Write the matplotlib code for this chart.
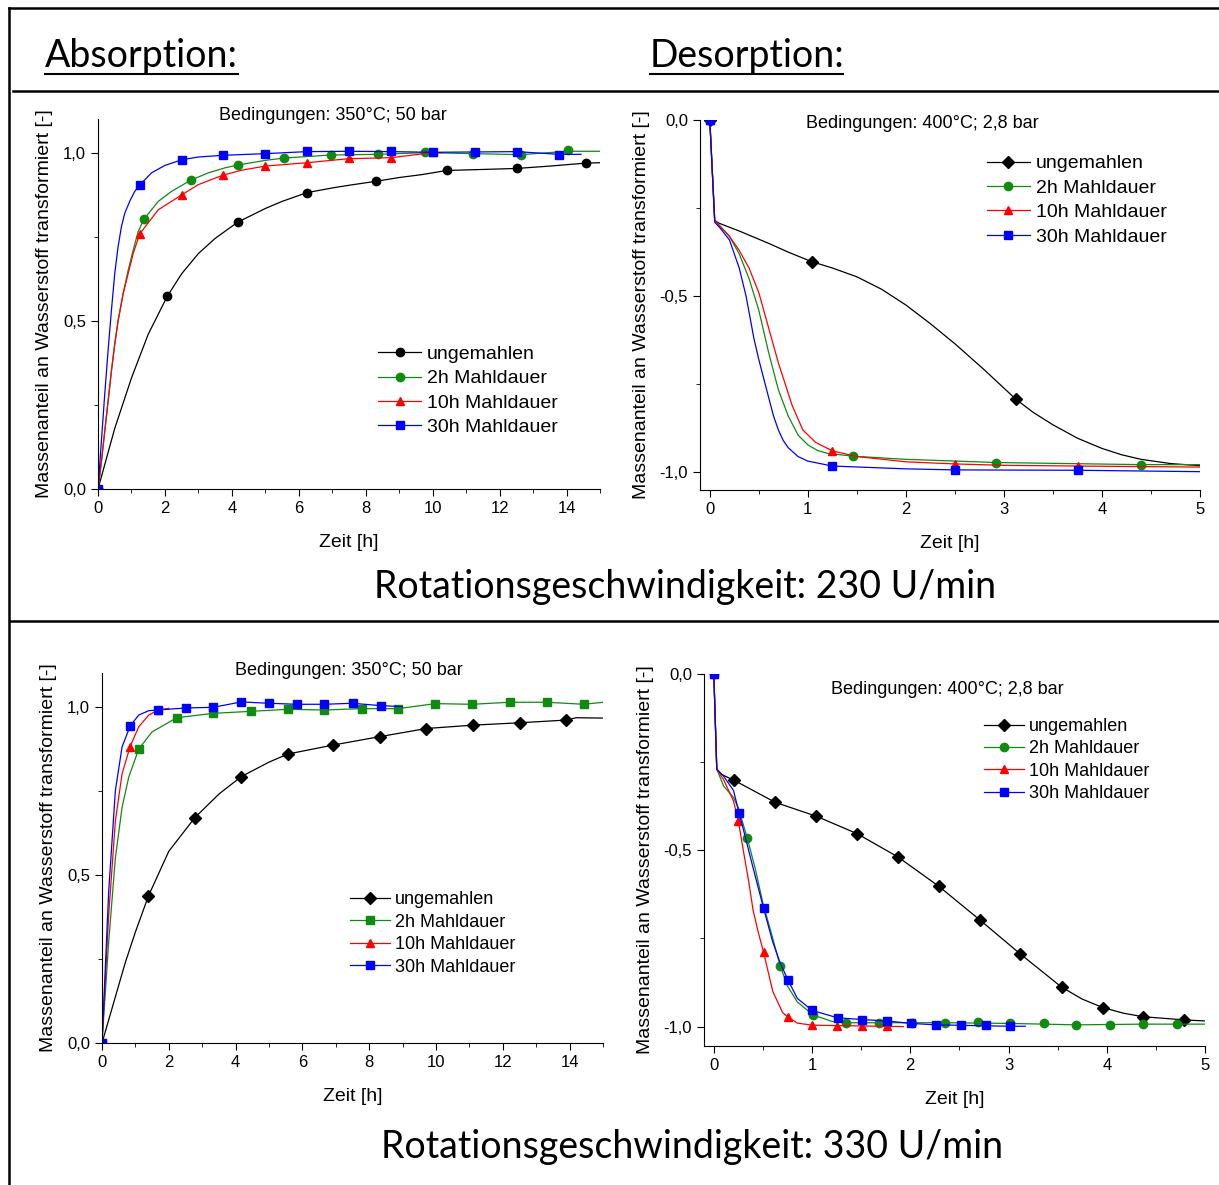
# Sorptionskinetik: Absorption / Desorption bei 230 und 330 U/min
import numpy as np
import matplotlib
matplotlib.use("Agg")
import matplotlib.pyplot as plt
from matplotlib.lines import Line2D
from matplotlib.ticker import MultipleLocator, FuncFormatter

plt.rcParams["font.family"] = ["Liberation Sans", "DejaVu Sans"]

# -- Daten -- (Zeit [h], Massenanteil [-])
labels = ["ungemahlen", "2h Mahldauer", "10h Mahldauer", "30h Mahldauer"]

# Absorption, 230 U/min
a230_ung = [(0, 0), (0.5, 0.18), (1.0, 0.33), (1.5, 0.46), (2.07, 0.573), (2.5, 0.64), (3.0, 0.70),
            (3.5, 0.745), (4.17, 0.793), (5.0, 0.834), (5.5, 0.855), (6.24, 0.881), (7.0, 0.895),
            (7.5, 0.903), (8.32, 0.915), (9.0, 0.926), (9.7, 0.935), (10.42, 0.947), (11.5, 0.95),
            (12.51, 0.953), (13.5, 0.96), (14.59, 0.969), (15.0, 0.97)]
a230_ung_mk = [(0, 0), (2.07, 0.573), (4.17, 0.793), (6.24, 0.881), (8.32, 0.915), (10.42, 0.947),
               (12.51, 0.953), (14.59, 0.969)]
a230_2h = [(0, 0), (0.1, 0.08), (0.2, 0.17), (0.3, 0.26), (0.4, 0.35), (0.5, 0.43), (0.6, 0.5),
           (0.75, 0.58), (0.9, 0.65), (1.05, 0.71), (1.2, 0.765), (1.37, 0.802), (1.8, 0.855), (2.2, 0.885),
           (2.77, 0.918), (3.3, 0.94), (3.8, 0.955), (4.17, 0.963), (5.0, 0.977), (5.57, 0.984),
           (6.97, 0.993), (8.37, 0.995), (9.78, 1.0), (11.2, 0.997), (12.63, 0.994), (14.04, 1.004),
           (15.0, 1.004)]
a230_2h_mk = [(0, 0), (1.37, 0.802), (2.77, 0.918), (4.17, 0.963), (5.57, 0.984), (6.97, 0.993),
              (8.37, 0.995), (9.78, 1.003), (11.2, 0.997), (12.63, 0.992), (14.04, 1.007)]
a230_10h = [(0, 0), (0.1, 0.08), (0.2, 0.17), (0.3, 0.26), (0.4, 0.35), (0.5, 0.43), (0.6, 0.5),
            (0.75, 0.58), (0.9, 0.64), (1.05, 0.7), (1.25, 0.759), (1.8, 0.83), (2.51, 0.875),
            (3.0, 0.905), (3.73, 0.933), (4.3, 0.948), (5.0, 0.96), (6.24, 0.97), (7.49, 0.982),
            (8.75, 0.985), (10.0, 1.0), (10.3, 1.0)]
a230_10h_mk = [(0, 0), (1.25, 0.759), (2.51, 0.875), (3.73, 0.933), (5.0, 0.96), (6.24, 0.97),
               (7.49, 0.983), (8.75, 0.985), (10.0, 1.002)]
a230_30h = [(0, 0), (0.1, 0.14), (0.2, 0.28), (0.3, 0.41), (0.4, 0.53), (0.5, 0.64), (0.6, 0.72),
            (0.7, 0.78), (0.8, 0.82), (0.96, 0.858), (1.1, 0.885), (1.25, 0.904), (1.6, 0.94),
            (2.0, 0.962), (2.51, 0.979), (3.0, 0.987), (3.73, 0.992), (5.0, 0.997), (6.24, 1.003),
            (7.49, 1.004), (8.75, 1.003), (10.0, 1.001), (11.25, 1.002), (12.51, 1.003), (13.77, 0.995),
            (14.43, 0.995)]
a230_30h_mk = [(0, 0), (1.25, 0.904), (2.51, 0.979), (3.73, 0.992), (5.0, 0.997), (6.24, 1.005),
               (7.49, 1.006), (8.75, 1.004), (10.0, 1.001), (11.25, 1.003), (12.51, 1.003), (13.77, 0.994)]

# Desorption, 230 U/min
d230_ung = [(0, 0), (0.05, -0.285), (0.095, -0.293), (0.3, -0.315), (0.6, -0.35), (0.8, -0.375),
            (1.04, -0.402), (1.25, -0.42), (1.5, -0.445), (1.75, -0.48), (2.0, -0.525), (2.25, -0.578),
            (2.5, -0.635), (2.8, -0.709), (3.12, -0.792), (3.3, -0.83), (3.5, -0.865), (3.75, -0.903),
            (4.0, -0.932), (4.2, -0.95), (4.4, -0.963), (4.7, -0.975), (5.0, -0.981)]
d230_ung_mk = [(0, 0), (1.04, -0.402), (3.12, -0.792)]
d230_2h = [(0, 0), (0.05, -0.285), (0.1, -0.3), (0.2, -0.33), (0.3, -0.38), (0.4, -0.45), (0.5, -0.54),
           (0.6, -0.66), (0.7, -0.766), (0.8, -0.84), (0.9, -0.894), (1.0, -0.922), (1.1, -0.938),
           (1.2, -0.946), (1.46, -0.954), (2.0, -0.963), (2.92, -0.972), (4.4, -0.978), (5.0, -0.978)]
d230_2h_mk = [(0, 0), (1.46, -0.954), (2.92, -0.972), (4.4, -0.978)]
d230_10h = [(0, 0), (0.05, -0.285), (0.1, -0.3), (0.2, -0.33), (0.3, -0.37), (0.4, -0.42), (0.5, -0.49),
            (0.6, -0.59), (0.7, -0.69), (0.84, -0.81), (0.95, -0.88), (1.08, -0.915), (1.25, -0.939),
            (1.5, -0.955), (2.0, -0.97), (2.5, -0.976), (3.0, -0.98), (3.76, -0.982), (5.0, -0.985)]
d230_10h_mk = [(0, 0), (1.25, -0.939), (2.5, -0.976), (3.76, -0.981)]
d230_30h = [(0, 0), (0.05, -0.29), (0.1, -0.305), (0.2, -0.34), (0.3, -0.42), (0.37, -0.5), (0.45, -0.62),
            (0.5, -0.68), (0.58, -0.766), (0.65, -0.84), (0.7, -0.88), (0.75, -0.91), (0.8, -0.93),
            (0.9, -0.955), (1.0, -0.968), (1.25, -0.982), (2.0, -0.99), (2.5, -0.993), (3.76, -0.994),
            (5.0, -0.998)]
d230_30h_mk = [(0, 0), (1.25, -0.982), (2.5, -0.993), (3.76, -0.993)]

# Absorption, 330 U/min
a330_ung = [(0, 0), (0.35, 0.12), (0.7, 0.24), (1.0, 0.33), (1.39, 0.437), (2.0, 0.57), (2.78, 0.67),
            (3.5, 0.74), (4.17, 0.792), (5.0, 0.835), (5.56, 0.859), (6.93, 0.886), (8.33, 0.911),
            (9.71, 0.935), (11.11, 0.945), (12.5, 0.952), (13.88, 0.96), (14.2, 0.967), (15.0, 0.966)]
a330_ung_mk = [(1.39, 0.437), (2.78, 0.67), (4.17, 0.792), (5.56, 0.859), (6.93, 0.886), (8.33, 0.911),
               (9.71, 0.935), (11.11, 0.945), (12.5, 0.952), (13.88, 0.96)]
a330_2h = [(0, 0), (0.2, 0.3), (0.4, 0.55), (0.6, 0.7), (0.8, 0.79), (1.1, 0.874), (1.5, 0.925),
           (2.24, 0.967), (3.32, 0.98), (4.45, 0.986), (5.56, 0.992), (6.66, 0.99), (7.77, 0.994),
           (8.87, 0.994), (9.98, 1.009), (11.08, 1.007), (12.22, 1.013), (13.32, 1.013), (14.43, 1.007),
           (15.0, 1.013)]
a330_2h_mk = [(0, 0), (1.1, 0.874), (2.24, 0.967), (3.32, 0.98), (4.45, 0.986), (5.56, 0.992),
              (6.66, 0.99), (7.77, 0.994), (8.87, 0.994), (9.98, 1.009), (11.08, 1.007), (12.22, 1.013),
              (13.32, 1.013), (14.43, 1.007)]
a330_10h = [(0, 0), (0.2, 0.38), (0.4, 0.66), (0.6, 0.8), (0.84, 0.881), (1.1, 0.94), (1.4, 0.975),
            (1.68, 0.99), (2.0, 0.995)]
a330_10h_mk = [(0, 0), (0.84, 0.881), (1.68, 0.99)]
a330_30h = [(0, 0), (0.2, 0.45), (0.4, 0.75), (0.6, 0.88), (0.84, 0.942), (1.1, 0.975), (1.4, 0.988),
            (1.68, 0.99), (2.5, 0.996), (3.33, 0.998), (4.17, 1.014), (5.0, 1.01), (5.83, 1.007),
            (6.66, 1.007), (7.5, 1.01), (8.34, 1.003), (8.99, 1.0)]
a330_30h_mk = [(0, 0), (0.84, 0.942), (1.68, 0.99), (2.5, 0.996), (3.33, 0.998), (4.17, 1.014),
               (5.0, 1.01), (5.83, 1.007), (6.66, 1.007), (7.5, 1.01), (8.34, 1.003)]

# Desorption, 330 U/min
d330_ung = [(0, 0), (0.03, -0.27), (0.08, -0.285), (0.21, -0.302), (0.625, -0.364), (1.04, -0.403),
            (1.46, -0.453), (1.875, -0.519), (2.29, -0.602), (2.71, -0.698), (3.12, -0.794),
            (3.54, -0.888), (3.75, -0.922), (3.96, -0.946), (4.17, -0.962), (4.37, -0.972),
            (4.79, -0.981), (5.0, -0.984)]
d330_ung_mk = [(0.21, -0.302), (0.625, -0.364), (1.04, -0.403), (1.46, -0.453), (1.875, -0.519),
               (2.29, -0.602), (2.71, -0.698), (3.12, -0.794), (3.54, -0.888), (3.96, -0.946),
               (4.37, -0.972), (4.79, -0.981)]
d330_2h = [(0, 0), (0.03, -0.27), (0.1, -0.318), (0.2, -0.35), (0.25, -0.38), (0.34, -0.465),
           (0.42, -0.55), (0.5, -0.65), (0.6, -0.75), (0.676, -0.828), (0.75, -0.885), (0.85, -0.93),
           (1.01, -0.967), (1.2, -0.985), (1.345, -0.989), (2.35, -0.989), (3.02, -0.991),
           (3.69, -0.995), (4.37, -0.993), (5.0, -0.993)]
d330_2h_mk = [(0, 0), (0.34, -0.465), (0.676, -0.828), (1.01, -0.967), (1.345, -0.989), (1.68, -0.989),
              (2.02, -0.99), (2.35, -0.989), (2.69, -0.987), (3.02, -0.991), (3.36, -0.991),
              (3.69, -0.995), (4.03, -0.995), (4.37, -0.993), (4.71, -0.993)]
d330_10h = [(0, 0), (0.03, -0.27), (0.1, -0.3), (0.2, -0.36), (0.25, -0.417), (0.3, -0.5), (0.35, -0.58),
            (0.4, -0.67), (0.45, -0.73), (0.506, -0.789), (0.6, -0.9), (0.7, -0.96), (0.755, -0.973),
            (0.85, -0.99), (1.0, -0.996), (1.93, -1.0)]
d330_10h_mk = [(0, 0), (0.25, -0.417), (0.506, -0.789), (0.755, -0.973), (1.0, -0.996), (1.25, -0.999),
               (1.51, -0.999), (1.76, -0.999)]
d330_30h = [(0, 0), (0.03, -0.27), (0.1, -0.29), (0.2, -0.33), (0.257, -0.394), (0.3, -0.44),
            (0.4, -0.55), (0.506, -0.664), (0.6, -0.76), (0.676, -0.82), (0.755, -0.868), (0.85, -0.92),
            (1.0, -0.954), (1.26, -0.975), (1.51, -0.98), (1.76, -0.984), (2.01, -0.991), (2.26, -0.995),
            (3.01, -0.999), (3.17, -0.999)]
d330_30h_mk = [(0, 0), (0.257, -0.394), (0.506, -0.664), (0.755, -0.868), (1.0, -0.954), (1.26, -0.975),
               (1.51, -0.98), (1.76, -0.984), (2.01, -0.991), (2.26, -0.995), (2.52, -0.995),
               (2.77, -0.995), (3.01, -0.999)]

colors = ["black", "#108a10", "#ff0000", "#0000ff"]
W, H = 1219, 1185


def fx(px):
    return px / W


def fy(py):
    return 1 - py / H


def komma(v, pos):
    return f"{v:.1f}".replace(".", ",")


def panel(rect, curves, markers, mk_styles, xmax, xmajor, ylim, ymajor, bed, bed_pos,
          leg_anchor, leg_size, leg_space):
    ax = fig.add_axes(rect)
    for i in range(4):
        t, y = zip(*curves[i])
        ax.plot(t, y, color=colors[i], lw=0.9)
        mt, my = zip(*markers[i])
        ax.plot(mt, my, ls="none", marker=mk_styles[i], color=colors[i], ms=6)
    # Legende mit Linie + Marker
    handles = [Line2D([], [], color=colors[i], lw=0.9, marker=mk_styles[i], ms=6) for i in range(4)]
    ax.legend(handles, labels, loc="upper left", bbox_to_anchor=leg_anchor, frameon=False,
              fontsize=leg_size, labelspacing=leg_space, handlelength=2.2, handletextpad=0.3,
              borderpad=0, borderaxespad=0)
    ax.set_xlim(-0.1 if xmax == 5 else 0, xmax)
    ax.set_ylim(*ylim)
    ax.spines["top"].set_visible(False)
    ax.spines["right"].set_visible(False)
    ax.xaxis.set_major_locator(MultipleLocator(xmajor))
    ax.xaxis.set_minor_locator(MultipleLocator(xmajor / 2))
    ax.yaxis.set_major_locator(MultipleLocator(ymajor))
    ax.yaxis.set_minor_locator(MultipleLocator(ymajor / 2))
    ax.yaxis.set_major_formatter(FuncFormatter(komma))
    ax.tick_params(which="major", length=5, labelsize=12)
    ax.tick_params(which="minor", length=3)
    ax.set_xlabel("Zeit [h]", fontsize=14, labelpad=13)
    ax.set_ylabel("Massenanteil an Wasserstoff transformiert [-]", fontsize=14, labelpad=7)
    fig.text(fx(bed_pos[0]), fy(bed_pos[1]), bed, fontsize=13, ha="center", va="center")
    return ax


fig = plt.figure(figsize=(W / 100, H / 100), dpi=100)

panel([fx(98), fy(489), fx(502), 370 / H],
      [a230_ung, a230_2h, a230_10h, a230_30h],
      [a230_ung_mk, a230_2h_mk, a230_10h_mk, a230_30h_mk],
      ["o", "o", "^", "s"], 15, 2, (0, 1.1), 0.5,
      "Bedingungen: 350°C; 50 bar", (333, 115), (0.558, 0.388), 14, 0.35)
panel([fx(700), fy(490), fx(500), 370 / H],
      [d230_ung, d230_2h, d230_10h, d230_30h],
      [d230_ung_mk, d230_2h_mk, d230_10h_mk, d230_30h_mk],
      ["D", "o", "^", "s"], 5, 1, (-1.05, 0), 0.5,
      "Bedingungen: 400°C; 2,8 bar", (922, 123), (0.574, 0.906), 14, 0.35)
panel([fx(102), fy(1043), fx(501), 370 / H],
      [a330_ung, a330_2h, a330_10h, a330_30h],
      [a330_ung_mk, a330_2h_mk, a330_10h_mk, a330_30h_mk],
      ["D", "s", "^", "s"], 15, 2, (0, 1.1), 0.5,
      "Bedingungen: 350°C; 50 bar", (349, 671), (0.495, 0.41), 13, 0.3)
panel([fx(704), fy(1046), fx(501), 372 / H],
      [d330_ung, d330_2h, d330_10h, d330_30h],
      [d330_ung_mk, d330_2h_mk, d330_10h_mk, d330_30h_mk],
      ["D", "o", "^", "s"], 5, 1, (-1.055, 0), 0.5,
      "Bedingungen: 400°C; 2,8 bar", (947, 690), (0.559, 0.882), 13, 0.3)

# Rahmen und Trennlinien
for xs, ys in [((9, 9), (8, H)), ((9, W), (8, 8)), ((13, W), (91, 91)), ((10, W), (621, 621))]:
    fig.add_artist(Line2D([fx(x) for x in xs], [fy(y) for y in ys], color="black", lw=1.8))

# Ueberschriften
head = dict(family=["Lato", "DejaVu Sans"], fontsize=27, va="baseline")
fig.text(fx(45), fy(67), "Absorption:", ha="left", **head)
fig.text(fx(650), fy(67), "Desorption:", ha="left", **head)
for x0, x1 in [(45, 238), (650, 843)]:
    fig.add_artist(Line2D([fx(x0), fx(x1)], [fy(74), fy(74)], color="black", lw=1.5))
fig.text(fx(685), fy(598), "Rotationsgeschwindigkeit: 230 U/min", ha="center", **head)
fig.text(fx(692), fy(1158), "Rotationsgeschwindigkeit: 330 U/min", ha="center", **head)

plt.savefig("out.png", dpi=100)
